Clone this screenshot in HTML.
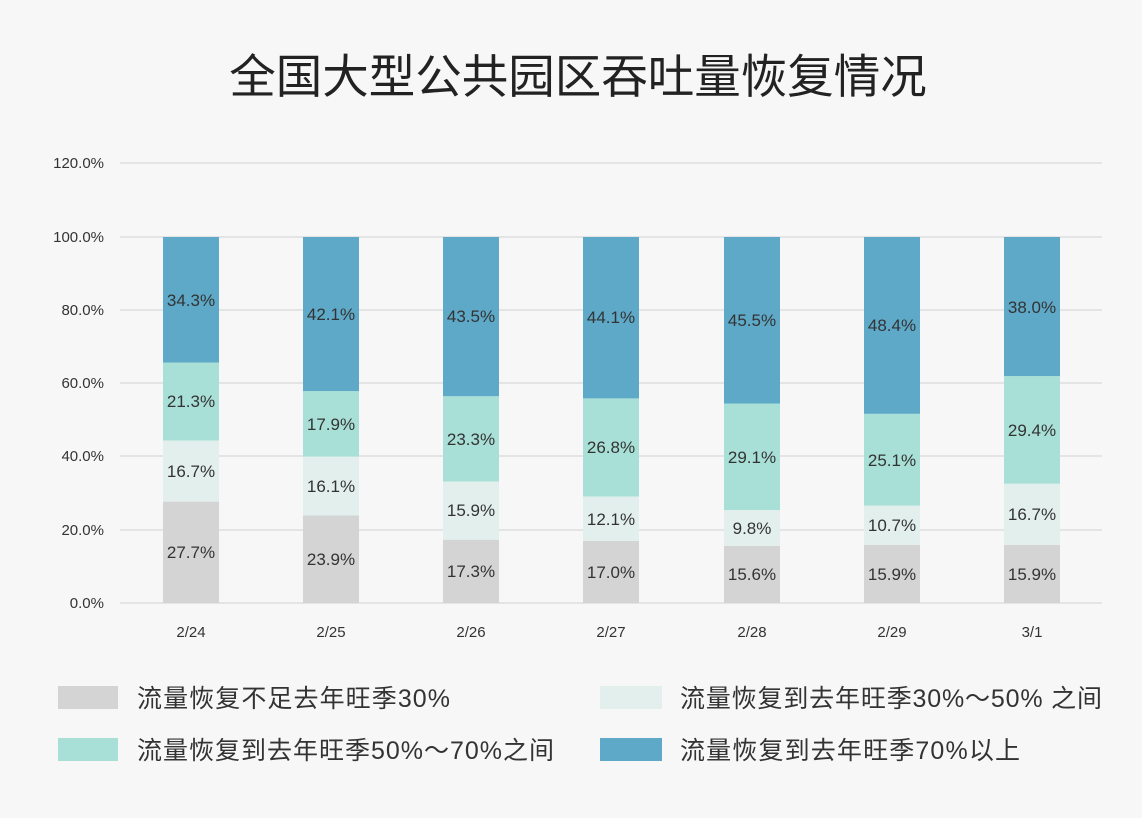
<!DOCTYPE html>
<html><head><meta charset="utf-8"><style>
body{margin:0;background:#f7f7f7;}
svg{display:block;font-family:"Liberation Sans","Noto Sans CJK SC",sans-serif;}
</style></head><body>
<svg width="1142" height="818" viewBox="0 0 1142 818">
<rect width="1142" height="818" fill="#f7f7f7"/>
<text x="578" y="93" text-anchor="middle" font-size="46.5" fill="#222" font-family="Noto Sans CJK SC, sans-serif">全国大型公共园区吞吐量恢复情况</text>
<g stroke="#d9d9d9" stroke-width="1.2">
<line x1="120" x2="1102" y1="163" y2="163"/><line x1="120" x2="1102" y1="237" y2="237"/>
<line x1="120" x2="1102" y1="310" y2="310"/><line x1="120" x2="1102" y1="383" y2="383"/>
<line x1="120" x2="1102" y1="456" y2="456"/><line x1="120" x2="1102" y1="530" y2="530"/>
<line x1="120" x2="1102" y1="603" y2="603"/>
</g>
<g fill="#333" font-size="15" text-anchor="end">
<text x="104" y="168">120.0%</text><text x="104" y="242">100.0%</text><text x="104" y="315">80.0%</text>
<text x="104" y="388">60.0%</text><text x="104" y="461">40.0%</text><text x="104" y="535">20.0%</text><text x="104" y="608">0.0%</text>
</g>
<g>
<rect x="163" y="501.6" width="56" height="101.4" fill="#d4d4d4"/><rect x="163" y="440.5" width="56" height="61.1" fill="#e3efec"/><rect x="163" y="362.5" width="56" height="78" fill="#a8e0d7"/><rect x="163" y="237" width="56" height="125.5" fill="#5ea9c8"/>
<rect x="303" y="515.5" width="56" height="87.5" fill="#d4d4d4"/><rect x="303" y="456.6" width="56" height="58.9" fill="#e3efec"/><rect x="303" y="391.1" width="56" height="65.5" fill="#a8e0d7"/><rect x="303" y="237" width="56" height="154.1" fill="#5ea9c8"/>
<rect x="443" y="539.7" width="56" height="63.3" fill="#d4d4d4"/><rect x="443" y="481.5" width="56" height="58.2" fill="#e3efec"/><rect x="443" y="396.2" width="56" height="85.3" fill="#a8e0d7"/><rect x="443" y="237" width="56" height="159.2" fill="#5ea9c8"/>
<rect x="583" y="540.8" width="56" height="62.2" fill="#d4d4d4"/><rect x="583" y="496.5" width="56" height="44.3" fill="#e3efec"/><rect x="583" y="398.4" width="56" height="98.1" fill="#a8e0d7"/><rect x="583" y="237" width="56" height="161.4" fill="#5ea9c8"/>
<rect x="724" y="545.9" width="56" height="57.1" fill="#d4d4d4"/><rect x="724" y="510" width="56" height="35.9" fill="#e3efec"/><rect x="724" y="403.5" width="56" height="106.5" fill="#a8e0d7"/><rect x="724" y="237" width="56" height="166.5" fill="#5ea9c8"/>
<rect x="864" y="544.8" width="56" height="58.2" fill="#d4d4d4"/><rect x="864" y="505.6" width="56" height="39.2" fill="#e3efec"/><rect x="864" y="413.8" width="56" height="91.8" fill="#a8e0d7"/><rect x="864" y="237" width="56" height="176.8" fill="#5ea9c8"/>
<rect x="1004" y="544.8" width="56" height="58.2" fill="#d4d4d4"/><rect x="1004" y="483.7" width="56" height="61.1" fill="#e3efec"/><rect x="1004" y="376.1" width="56" height="107.6" fill="#a8e0d7"/><rect x="1004" y="237" width="56" height="139.1" fill="#5ea9c8"/>
</g>
<g fill="#333" font-size="17" text-anchor="middle">
<text x="191" y="558">27.7%</text><text x="191" y="477">16.7%</text><text x="191" y="407">21.3%</text><text x="191" y="306">34.3%</text>
<text x="331" y="565">23.9%</text><text x="331" y="492">16.1%</text><text x="331" y="430">17.9%</text><text x="331" y="320">42.1%</text>
<text x="471" y="577">17.3%</text><text x="471" y="516">15.9%</text><text x="471" y="445">23.3%</text><text x="471" y="322">43.5%</text>
<text x="611" y="578">17.0%</text><text x="611" y="525">12.1%</text><text x="611" y="453">26.8%</text><text x="611" y="323">44.1%</text>
<text x="752" y="580">15.6%</text><text x="752" y="534">9.8%</text><text x="752" y="463">29.1%</text><text x="752" y="326">45.5%</text>
<text x="892" y="580">15.9%</text><text x="892" y="531">10.7%</text><text x="892" y="466">25.1%</text><text x="892" y="331">48.4%</text>
<text x="1032" y="580">15.9%</text><text x="1032" y="520">16.7%</text><text x="1032" y="436">29.4%</text><text x="1032" y="313">38.0%</text>
</g>
<g fill="#333" font-size="15" text-anchor="middle">
<text x="191" y="637">2/24</text><text x="331" y="637">2/25</text><text x="471" y="637">2/26</text><text x="611" y="637">2/27</text>
<text x="752" y="637">2/28</text><text x="892" y="637">2/29</text><text x="1032" y="637">3/1</text>
</g>
<g font-size="25" fill="#333">
<rect x="58" y="686" width="60" height="23" fill="#d4d4d4"/><text x="137" y="707" textLength="313">流量恢复不足去年旺季30%</text>
<rect x="600" y="686" width="62" height="23" fill="#e3efec"/><text x="680" y="707" textLength="422">流量恢复到去年旺季30%～50% 之间</text>
<rect x="58" y="738" width="60" height="23" fill="#a8e0d7"/><text x="137" y="759" textLength="417">流量恢复到去年旺季50%～70%之间</text>
<rect x="600" y="738" width="62" height="23" fill="#5ea9c8"/><text x="680" y="759" textLength="340">流量恢复到去年旺季70%以上</text>
</g>
</svg>
</body></html>
